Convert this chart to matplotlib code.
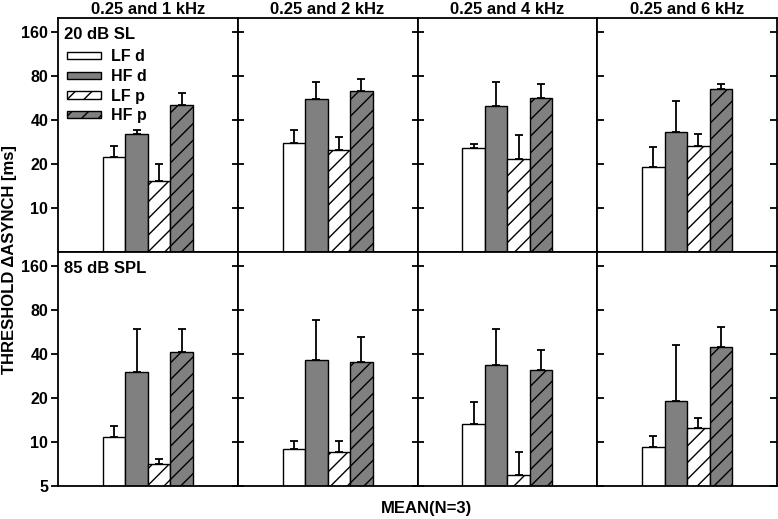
import matplotlib
matplotlib.use('Agg')
import matplotlib.pyplot as plt
from matplotlib.ticker import FixedLocator, NullLocator

plt.rcParams['font.family'] = ['Liberation Sans', 'DejaVu Sans']
plt.rcParams['font.weight'] = 'bold'
plt.rcParams['hatch.linewidth'] = 1.0

# Данные: пороги (мс) и верхние границы планок погрешностей
columns = ['0.25 and 1 kHz', '0.25 and 2 kHz', '0.25 and 4 kHz', '0.25 and 6 kHz']
rows = ['20 dB SL', '85 dB SPL']
series = ['LF d', 'HF d', 'LF p', 'HF p']

# строка 20 dB SL: по столбцам, порядок LF d, HF d, LF p, HF p
sl_means = [[22.2, 31.9, 15.2, 50.7],
            [27.7, 55.7, 24.7, 63.2],
            [25.6, 49.3, 21.5, 56.3],
            [19.0, 33.1, 26.3, 64.5]]
sl_upper = [[26.3, 33.8, 20.0, 60.5],
            [33.8, 72.0, 30.7, 75.5],
            [27.4, 72.0, 31.6, 69.8],
            [26.1, 53.4, 31.7, 70.0]]

# строка 85 dB SPL
spl_means = [[10.9, 30.1, 7.1, 41.5],
             [8.96, 36.4, 8.5, 35.0],
             [13.2, 33.8, 5.95, 31.2],
             [9.2, 19.0, 12.5, 44.7]]
spl_upper = [[12.8, 59.3, 7.65, 59.6],
             [10.1, 67.9, 10.2, 52.0],
             [18.7, 59.6, 8.6, 42.4],
             [11.0, 46.3, 14.6, 61.5]]

colors = ['white', '#808080', 'white', '#808080']
hatches = [None, None, '//', '//']

fig, axes = plt.subplots(2, 4, figsize=(7.78, 5.19), dpi=100)
fig.subplots_adjust(left=58 / 778, right=777 / 778, top=1 - 17.5 / 519,
                    bottom=1 - 486 / 519, wspace=0, hspace=0)

all_means = [sl_means, spl_means]
all_upper = [sl_upper, spl_upper]

for r in range(2):
    for c in range(4):
        ax = axes[r][c]
        means = all_means[r][c]
        upper = all_upper[r][c]
        xs = [2.5, 3.5, 4.5, 5.5]
        for i in range(4):
            ax.bar(xs[i], means[i], width=1.0, color=colors[i], edgecolor='black',
                   linewidth=1.0, hatch=hatches[i], label=series[i], zorder=2)
            ax.errorbar(xs[i], means[i], yerr=[[0], [upper[i] - means[i]]],
                        fmt='none', ecolor='black', elinewidth=1.3, capsize=3.2,
                        capthick=1.3, zorder=1)
        ax.set_yscale('log')
        ax.set_ylim(5, 200)
        ax.set_xlim(0, 8)
        ax.set_xticks([])
        ax.yaxis.set_minor_locator(NullLocator())
        if r == 0:
            ax.yaxis.set_major_locator(FixedLocator([10, 20, 40, 80, 160]))
        else:
            ax.yaxis.set_major_locator(FixedLocator([5, 10, 20, 40, 80, 160]))
        for sp in ax.spines.values():
            sp.set_linewidth(1.3)
        if c == 0:
            ax.set_yticklabels([str(t) for t in ax.get_yticks()], fontsize=11.5, fontweight='bold')
            ax.tick_params(axis='y', direction='out', length=5, width=1.3, pad=2)
        else:
            ax.set_yticklabels([])
            ax.tick_params(axis='y', direction='inout', length=9, width=1.3)
        if c == 3:
            ax.tick_params(axis='y', right=True, direction='in', length=5, width=1.3)
            ax.tick_params(axis='y', which='major', left=True)
        if r == 0:
            ax.set_title(columns[c], fontsize=12, fontweight='bold', pad=2)
        if c == 0:
            ax.text(0.035, 0.96, rows[r], transform=ax.transAxes, ha='left', va='top',
                    fontsize=12, fontweight='bold')

leg = axes[0][0].legend(loc='upper left', bbox_to_anchor=(0.05, 0.865), frameon=False,
                        fontsize=11.5, handlelength=2.1, handleheight=0.32,
                        handletextpad=0.65, labelspacing=0.3, borderpad=0, borderaxespad=0)
for t in leg.get_texts():
    t.set_fontweight('bold')

fig.text(10 / 778, 0.5, 'THRESHOLD \u0394ASYNCH [ms]', rotation=90, ha='center',
         va='center', fontsize=12, fontweight='bold')
fig.text(426 / 778, 1 - 509 / 519, 'MEAN(N=3)', ha='center', va='center',
         fontsize=12, fontweight='bold')

plt.savefig('out.png', dpi=100)
